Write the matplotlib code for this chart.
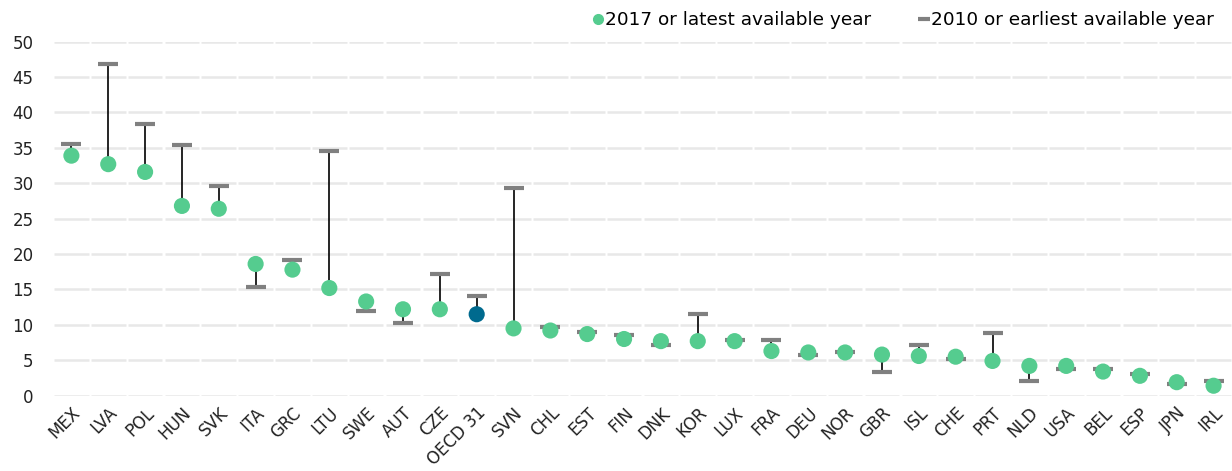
import numpy as np
import matplotlib.pyplot as plt
from matplotlib.lines import Line2D

plt.rcParams['font.family'] = ['DejaVu Sans']

countries = ['MEX', 'LVA', 'POL', 'HUN', 'SVK', 'ITA', 'GRC', 'LTU', 'SWE', 'AUT',
             'CZE', 'OECD 31', 'SVN', 'CHL', 'EST', 'FIN', 'DNK', 'KOR', 'LUX', 'FRA',
             'DEU', 'NOR', 'GBR', 'ISL', 'CHE', 'PRT', 'NLD', 'USA', 'BEL', 'ESP',
             'JPN', 'IRL']
latest = [33.9, 32.7, 31.6, 26.8, 26.4, 18.6, 17.8, 15.2, 13.3, 12.2,
          12.2, 11.5, 9.5, 9.2, 8.7, 8.0, 7.7, 7.7, 7.7, 6.3,
          6.1, 6.1, 5.8, 5.6, 5.5, 4.9, 4.2, 4.2, 3.4, 2.8,
          1.9, 1.4]
earliest = [35.6, 46.9, 38.4, 35.4, 29.6, 15.3, 19.1, 34.5, 12.0, 10.2,
            17.2, 14.1, 29.4, 9.7, 9.0, 8.5, 7.1, 11.6, 7.8, 7.9,
            5.8, 6.1, 3.3, 7.2, 5.2, 8.9, 2.1, 3.7, 3.7, 3.1,
            1.7, 2.1]

green = '#55CC8F'
blue = '#006A8E'
grey = '#808080'

x = np.arange(len(countries))
fig = plt.figure(figsize=(12.32, 4.71), dpi=100)
ax = fig.add_axes([0.043, 0.16, 0.957, 0.7515])

# segmented gridlines, one piece per category
gap = 0.03
for yv in range(0, 51, 5):
    ax.hlines([yv] * len(x), x - 0.5 + gap, x + 0.5 - gap, color='#E8E8E8',
              lw=1.8, zorder=0)

ax.vlines(x, latest, earliest, color='black', lw=1.2, zorder=1)
ax.scatter(x, earliest, marker='_', s=190, linewidths=3, color=grey, zorder=2)
colors = [blue if c.startswith('OECD') else green for c in countries]
ax.scatter(x, latest, s=135, color=colors, edgecolors='none', zorder=3)

ax.set_xlim(-0.5, 31.5)
ax.set_ylim(0, 50)
ax.set_yticks(range(0, 51, 5))
ax.set_xticks(x)
ax.set_xticklabels(countries, rotation=45, ha='right', rotation_mode='anchor')
ax.tick_params(length=0, labelsize=12, colors='#222222')
ax.tick_params(axis='x', pad=6)
ax.tick_params(axis='y', pad=14)
for s in ax.spines.values():
    s.set_visible(False)

handles = [Line2D([], [], marker='o', ls='none', color=green, markersize=7),
           Line2D([], [], marker='_', ls='none', color=grey, markersize=9,
                  markeredgewidth=3)]
fig.legend(handles, ['2017 or latest available year', '2010 or earliest available year'],
           loc='upper right', bbox_to_anchor=(0.999, 1.012), ncol=2, frameon=False,
           fontsize=13.3, handlelength=0.5, handletextpad=0.15, columnspacing=2.6)

fig.savefig('out.png', dpi=100)
